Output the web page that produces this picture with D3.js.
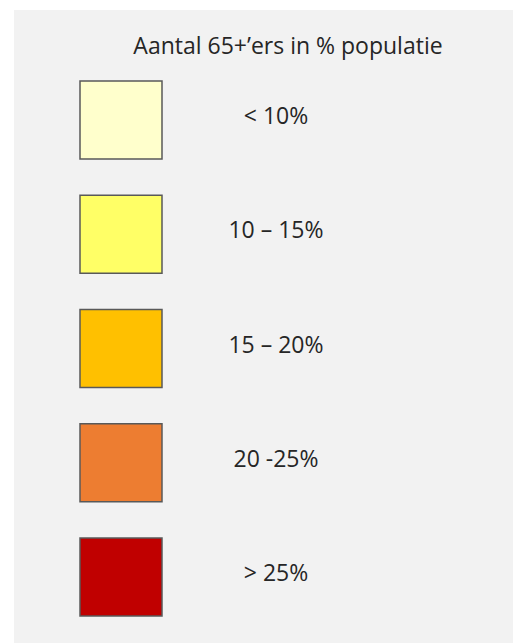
<!DOCTYPE html>
<meta charset="utf-8">
<style>
body { margin: 0; background: #fff; }
text { font-family: 'Open Sans', sans-serif; fill: #262626; }
</style>
<body>
<div id="legend"></div>
<script src="https://d3js.org/d3.v7.min.js"></script>
<script>
const width = 520, height = 643;

// legend classes
const classes = ["< 10%", "10 – 15%", "15 – 20%", "20 -25%", "> 25%"];
const colors = ["#ffffcc", "#ffff66", "#ffc000", "#ed7d31", "#c00000"];
const title = "Aantal 65+’ers in % populatie";

const svg = d3.select('#legend').append("svg")
	.attr("width", width)
	.attr("height", height);

// grey panel
svg.append("rect")
	.attr("x", 14)
	.attr("y", 10)
	.attr("width", 499)
	.attr("height", height - 10)
	.attr("fill", "#f2f2f2");

svg.append("text")
	.attr("x", 288)
	.attr("y", 54)
	.attr("text-anchor", "middle")
	.style("font-size", "23px")
	.text(title);

// one row per class
const y = d3.scalePoint()
	.domain(classes)
	.range([121, 578]);

const box = 80;

const rows = svg.append("g")
	.selectAll("g")
	.data(classes)
	.enter().append("g")
	.attr("transform", d => "translate(0," + y(d) + ")");

rows.append("rect")
	.attr("x", 80)
	.attr("y", -box / 2)
	.attr("width", 82)
	.attr("height", box - 2)
	.attr("fill", (d, i) => colors[i])
	.attr("stroke", "#595959")
	.attr("stroke-width", 1.5);

rows.append("text")
	.attr("x", 276)
	.attr("y", -5)
	.attr("dy", "0.35em")
	.attr("text-anchor", "middle")
	.style("font-size", "23px")
	.text(d => d);
</script>
</body>
